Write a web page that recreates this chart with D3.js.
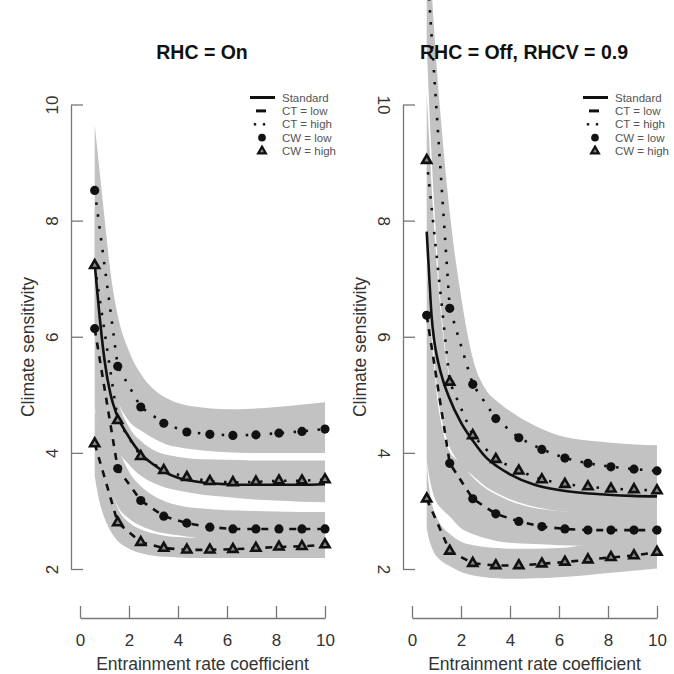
<!DOCTYPE html>
<html>
<head>
<meta charset="utf-8">
<script src="https://cdn.jsdelivr.net/npm/d3@7"></script>
<style>
  body { margin: 0; background: #fff; }
  svg { display: block; font-family: "Liberation Sans", Arial, sans-serif; }
</style>
</head>
<body>
<svg id="chart" width="674" height="674"></svg>
<script>
// x positions of the markers, and the finer grid used for the standard curve and the bands
const markerX = [0.6, 1.54, 2.48, 3.42, 4.36, 5.3, 6.24, 7.18, 8.12, 9.06, 10];
const curveX = [0.6, 0.7, 0.8, 0.9, 1.0, 1.25, 1.5, 2, 2.5, 3, 3.5, 4, 5, 6, 7, 8, 9, 10];
const xTicks = [0, 2, 4, 6, 8, 10];
const yTicks = [2, 4, 6, 8, 10];

// ---- RHC = On ----
const onStandard = [7.26, 6.8, 6.35, 5.95, 5.6, 5.0, 4.66, 4.27, 3.98, 3.8, 3.66, 3.57, 3.49, 3.46, 3.45, 3.45, 3.45, 3.46];
const onHighLow  = [8.52, 5.49, 4.79, 4.51, 4.36, 4.32, 4.30, 4.31, 4.34, 4.37, 4.41];
const onHighHigh = [7.23, 4.56, 3.94, 3.70, 3.58, 3.51, 3.49, 3.50, 3.52, 3.52, 3.54];
const onLowLow   = [6.14, 3.73, 3.18, 2.91, 2.79, 2.72, 2.69, 2.69, 2.69, 2.69, 2.69];
const onLowHigh  = [4.16, 2.80, 2.46, 2.36, 2.33, 2.33, 2.34, 2.36, 2.38, 2.39, 2.42];
// uncertainty bands (curveX)
const onHighLowHi  = [9.65, 9.25, 8.85, 8.45, 8.05, 7.1, 6.45, 5.75, 5.35, 5.1, 4.95, 4.86, 4.78, 4.75, 4.76, 4.79, 4.83, 4.87];
const onHighLowLo  = [7.4, 7.0, 6.6, 6.25, 5.95, 5.35, 4.95, 4.55, 4.38, 4.25, 4.15, 4.1, 4.04, 4.01, 4.0, 4.0, 4.0, 4.0];
const onHighHighHi = [8.2, 7.75, 7.3, 6.9, 6.55, 5.8, 5.05, 4.45, 4.2, 4.05, 3.97, 3.93, 3.89, 3.88, 3.87, 3.87, 3.87, 3.87];
const onHighHighLo = [6.25, 5.9, 5.55, 5.25, 5.0, 4.45, 4.1, 3.8, 3.6, 3.48, 3.4, 3.35, 3.28, 3.24, 3.2, 3.18, 3.16, 3.15];
const onLowLowHi   = [7.0, 6.55, 6.1, 5.7, 5.35, 4.7, 4.2, 3.68, 3.42, 3.26, 3.16, 3.1, 3.04, 3.01, 3.0, 2.99, 2.98, 2.98];
const onLowLowLo   = [4.8, 4.5, 4.25, 4.05, 3.88, 3.45, 3.12, 2.87, 2.74, 2.66, 2.61, 2.58, 2.52, 2.48, 2.45, 2.44, 2.43, 2.42];
const onLowHighHi  = [4.75, 4.55, 4.3, 4.1, 3.92, 3.5, 3.1, 2.8, 2.68, 2.61, 2.57, 2.55, 2.53, 2.54, 2.56, 2.58, 2.6, 2.62];
const onLowHighLo  = [3.6, 3.35, 3.15, 3.0, 2.88, 2.65, 2.5, 2.35, 2.27, 2.23, 2.21, 2.2, 2.19, 2.19, 2.19, 2.19, 2.19, 2.19];

// ---- RHC = Off, RHCV = 0.9 ----
const offStandard = [7.81, 7.05, 6.35, 5.95, 5.7, 5.27, 4.97, 4.52, 4.2, 3.93, 3.76, 3.63, 3.45, 3.36, 3.31, 3.28, 3.26, 3.25];
const offHighLow  = [12.45, 6.49, 5.18, 4.59, 4.26, 4.06, 3.91, 3.82, 3.76, 3.72, 3.69];
const offHighHigh = [9.04, 5.22, 4.30, 3.89, 3.69, 3.54, 3.46, 3.42, 3.38, 3.37, 3.35];
const offLowLow   = [6.37, 3.82, 3.21, 2.95, 2.82, 2.73, 2.69, 2.67, 2.67, 2.67, 2.67];
const offLowHigh  = [3.21, 2.31, 2.10, 2.06, 2.06, 2.09, 2.12, 2.16, 2.20, 2.23, 2.29];
const offHighLowHi  = [13.5, 12.8, 12.0, 11.3, 10.7, 9.4, 8.3, 6.7, 5.6, 5.1, 4.88, 4.72, 4.47, 4.3, 4.22, 4.18, 4.15, 4.13];
const offHighLowLo  = [11.0, 10.0, 9.1, 8.3, 7.6, 6.2, 5.4, 4.45, 4.0, 3.8, 3.65, 3.55, 3.42, 3.35, 3.3, 3.27, 3.25, 3.24];
const offHighHighHi = [10.2, 9.4, 8.6, 7.9, 7.3, 6.1, 5.35, 4.6, 4.25, 4.05, 3.92, 3.82, 3.7, 3.62, 3.58, 3.55, 3.54, 3.53];
const offHighHighLo = [7.8, 7.0, 6.3, 5.7, 5.2, 4.5, 4.15, 3.8, 3.6, 3.42, 3.3, 3.2, 3.07, 3.0, 2.97, 2.95, 2.93, 2.92];
const offLowLowHi   = [7.3, 6.6, 6.0, 5.5, 5.05, 4.4, 4.05, 3.82, 3.57, 3.39, 3.27, 3.17, 3.05, 3.0, 2.98, 2.97, 2.96, 2.95];
const offLowLowLo   = [3.85, 3.6, 3.4, 3.25, 3.15, 3.02, 2.92, 2.7, 2.6, 2.53, 2.48, 2.45, 2.43, 2.41, 2.40, 2.38, 2.36, 2.35];
const offLowHighHi  = [3.81, 3.4, 3.15, 3.0, 2.9, 2.72, 2.62, 2.47, 2.41, 2.38, 2.36, 2.35, 2.35, 2.36, 2.41, 2.46, 2.51, 2.55];
const offLowHighLo  = [2.7, 2.5, 2.38, 2.28, 2.22, 2.12, 2.06, 1.95, 1.89, 1.86, 1.84, 1.83, 1.84, 1.86, 1.89, 1.93, 1.97, 2.01];

const legendLabels = ["Standard", "CT = low", "CT = high", "CW = low", "CW = high"];

const panels = [
  {
    title: "RHC = On", titleX: 202,
    xRange: [80, 325], axisX: 71, tickRot: -90, legendX: 262,
    standard: onStandard,
    series: [
      { v: onHighLow, dash: "dot", mark: "circle" },
      { v: onHighHigh, dash: "dot", mark: "triangle" },
      { v: onLowLow, dash: "dash", mark: "circle" },
      { v: onLowHigh, dash: "dash", mark: "triangle" }
    ],
    bands: [[onHighLowLo, onHighLowHi], [onHighHighLo, onHighHighHi], [onLowLowLo, onLowLowHi], [onLowHighLo, onLowHighHi]]
  },
  {
    title: "RHC = Off, RHCV = 0.9", titleX: 524,
    xRange: [412, 657], axisX: 403, tickRot: 90, legendX: 595,
    standard: offStandard,
    series: [
      { v: offHighLow, dash: "dot", mark: "circle" },
      { v: offHighHigh, dash: "dot", mark: "triangle" },
      { v: offLowLow, dash: "dash", mark: "circle" },
      { v: offLowHigh, dash: "dash", mark: "triangle" }
    ],
    bands: [[offHighLowLo, offHighLowHi], [offHighHighLo, offHighHighHi], [offLowLowLo, offLowLowHi], [offLowHighLo, offLowHighHi]]
  }
];

const svg = d3.select("#chart");
const y = d3.scaleLinear().domain([2, 10]).range([569, 104.5]);
const dashes = { dot: "2.5,9.5", dash: "7,7" };
const circleSym = d3.symbol().type(d3.symbolCircle).size(66);
const triSym = d3.symbol().type(d3.symbolTriangle).size(36);
const legCircle = d3.symbol().type(d3.symbolCircle).size(46);
const legTri = d3.symbol().type(d3.symbolTriangle).size(26);

panels.forEach(function(p) {
  let x = d3.scaleLinear().domain([0, 10]).range(p.xRange);
  let g = svg.append("g");

  // bands
  let area = d3.area()
    .x(d => x(d[0])).y0(d => y(d[1])).y1(d => y(d[2]))
    .curve(d3.curveMonotoneX);
  p.bands.forEach(function(b) {
    let pts = curveX.map((cx, i) => [cx, b[0][i], b[1][i]]);
    g.append("path").attr("d", area(pts)).attr("fill", "#c2c2c2");
  });

  // lines
  let line = d3.line().x(d => x(d[0])).y(d => y(d[1]));
  p.series.forEach(function(s) {
    let pts = markerX.map((mx, i) => [mx, s.v[i]]);
    g.append("path").attr("d", line(pts))
      .attr("fill", "none").attr("stroke", "#111")
      .attr("stroke-width", 2.6)
      .attr("stroke-dasharray", dashes[s.dash]);
  });
  g.append("path")
    .attr("d", line.curve(d3.curveMonotoneX)(curveX.map((cx, i) => [cx, p.standard[i]])))
    .attr("fill", "none").attr("stroke", "#111").attr("stroke-width", 2.6);

  // markers
  p.series.forEach(function(s) {
    g.selectAll(null).data(markerX.map((mx, i) => [mx, s.v[i]])).enter()
      .append("path")
      .attr("transform", d => `translate(${x(d[0])},${y(d[1])})`)
      .attr("d", s.mark === "circle" ? circleSym() : triSym())
      .attr("fill", s.mark === "circle" ? "#111" : "#888")
      .attr("stroke", "#111")
      .attr("stroke-width", s.mark === "circle" ? 0 : 2.6);
  });

  // x axis
  let xa = g.append("g").attr("transform", "translate(0,618)")
    .call(d3.axisBottom(x).tickValues(xTicks).tickSize(-12).tickSizeOuter(0).tickPadding(16));
  // y axis
  let ya = g.append("g").attr("transform", `translate(${p.axisX},0)`)
    .call(d3.axisLeft(y).tickValues(yTicks).tickSize(-12).tickSizeOuter(0));
  ya.selectAll("text")
    .attr("x", null).attr("dy", "0.35em")
    .attr("text-anchor", "middle")
    .attr("transform", `translate(-19,0) rotate(${p.tickRot})`);
  [xa, ya].forEach(function(a) {
    a.select(".domain").attr("stroke", "#777").attr("stroke-width", 1.3);
    a.selectAll(".tick line").attr("stroke", "#777").attr("stroke-width", 1.3);
    a.selectAll("text").attr("font-size", 17).attr("fill", "#333")
      .attr("font-family", "Liberation Sans, Arial, sans-serif");
  });

  // titles
  g.append("text").attr("x", p.titleX).attr("y", 58.5)
    .attr("text-anchor", "middle").attr("font-size", 19.5).attr("font-weight", "bold")
    .attr("fill", "#111").text(p.title);
  g.append("text").attr("x", (p.xRange[0] + p.xRange[1]) / 2).attr("y", 670)
    .attr("text-anchor", "middle").attr("font-size", 17.5).attr("fill", "#333")
    .text("Entrainment rate coefficient");
  g.append("text")
    .attr("transform", `translate(${p.axisX - 37},347) rotate(-90)`)
    .attr("text-anchor", "middle").attr("font-size", 17.5).attr("fill", "#333")
    .text("Climate sensitivity");

  // legend
  let lg = g.append("g");
  legendLabels.forEach(function(lab, i) {
    let ly = 97.5 + i * 13.4;
    lg.append("text").attr("x", p.legendX + 20).attr("y", ly).attr("dy", "0.35em")
      .attr("font-size", 11.5).attr("fill", "#555").text(lab);
    if (i === 0) {
      lg.append("line").attr("x1", p.legendX - 12).attr("x2", p.legendX + 13)
        .attr("y1", ly).attr("y2", ly).attr("stroke", "#111").attr("stroke-width", 3);
    } else if (i === 1) {
      lg.append("line").attr("x1", p.legendX - 6).attr("x2", p.legendX + 4)
        .attr("y1", ly).attr("y2", ly).attr("stroke", "#111").attr("stroke-width", 3);
    } else if (i === 2) {
      [-7, 2].forEach(function(dx) {
        lg.append("rect").attr("x", p.legendX + dx - 1.2).attr("y", ly - 1.2)
          .attr("width", 2.4).attr("height", 2.4).attr("fill", "#111");
      });
    } else {
      lg.append("path").attr("transform", `translate(${p.legendX},${ly})`)
        .attr("d", i === 3 ? legCircle() : legTri())
        .attr("fill", i === 3 ? "#111" : "#888")
        .attr("stroke", "#111").attr("stroke-width", i === 3 ? 0 : 2.2);
    }
  });
});
</script>
</body>
</html>
